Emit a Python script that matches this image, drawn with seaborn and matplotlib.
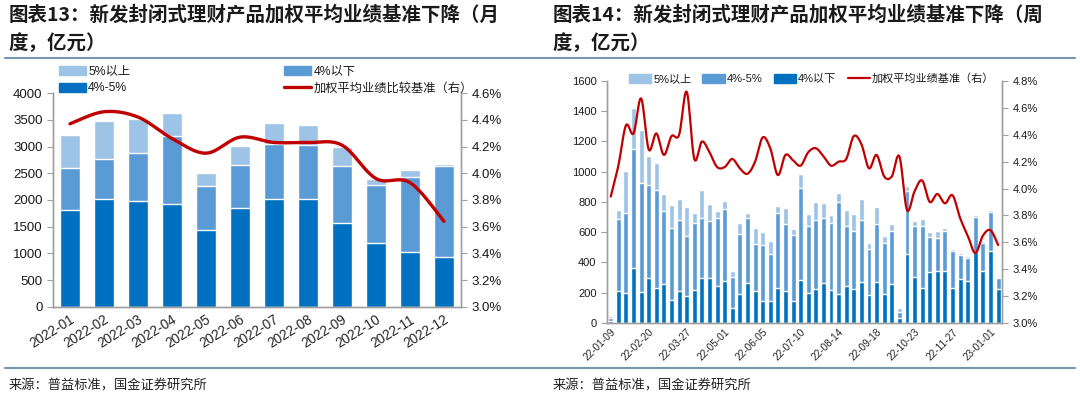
import numpy as np
import pandas as pd
import matplotlib
matplotlib.use("Agg")
import matplotlib.pyplot as plt
from matplotlib.patches import Patch
from matplotlib.lines import Line2D
from matplotlib.ticker import FuncFormatter
import seaborn as sns

# ---- 月度数据（亿元）----
months = ["2022-01", "2022-02", "2022-03", "2022-04", "2022-05", "2022-06",
          "2022-07", "2022-08", "2022-09", "2022-10", "2022-11", "2022-12"]
m_45 = [1810, 2020, 1980, 1925, 1430, 1855, 2020, 2020, 1570, 1200, 1030, 935]   # 4%-5%
m_lt4 = [790, 745, 900, 1270, 835, 805, 1035, 1015, 1070, 1075, 1400, 1700]      # 4%以下
m_gt5 = [620, 715, 630, 430, 245, 345, 380, 365, 360, 125, 125, 40]              # 5%以上
m_rate = [4.37, 4.46, 4.42, 4.26, 4.15, 4.27, 4.23, 4.23, 4.21, 3.96, 3.93, 3.64]

# ---- 周度数据（亿元）----
weeks = ["22-01-09", "22-01-16", "22-01-23", "22-02-06", "22-02-13"] + \
    [d.strftime("%y-%m-%d") for d in pd.date_range("2022-02-20", periods=47, freq="7D")]
w_lt4 = [15, 210, 199, 364, 203, 296, 230, 256, 155, 212, 179, 218, 296, 298, 245, 280,
         102, 190, 263, 210, 148, 148, 234, 214, 143, 282, 201, 223, 267, 221, 192, 245,
         223, 271, 185, 269, 194, 258, 33, 455, 307, 234, 335, 344, 342, 232, 289, 278,
         470, 342, 479, 223]                                                       # 4%以下
w_45 = [20, 476, 529, 786, 724, 618, 651, 486, 474, 470, 393, 444, 399, 377, 450, 473,
        203, 397, 434, 315, 366, 307, 490, 439, 437, 610, 437, 461, 426, 437, 605, 399,
        388, 409, 303, 384, 338, 351, 42, 417, 337, 410, 232, 217, 269, 245, 161, 155,
        234, 188, 256, 77]                                                         # 4%-5%
w_gt5 = [10, 60, 276, 269, 351, 187, 174, 112, 154, 141, 196, 66, 186, 115, 44, 52,
         39, 71, 27, 100, 86, 84, 48, 108, 40, 90, 81, 117, 99, 55, 64, 104,
         108, 143, 44, 115, 42, 44, 24, 33, 31, 45, 33, 48, 18, 15, 13, 13,
         7, 13, 11, 5]                                                             # 5%以上
w_rate = [3.94, 4.17, 4.47, 4.41, 4.67, 4.29, 4.41, 4.25, 4.39, 4.40, 4.72, 4.22, 4.35,
          4.27, 4.16, 4.16, 4.22, 4.15, 4.11, 4.20, 4.38, 4.30, 4.10, 4.25, 4.21, 4.17,
          4.27, 4.30, 4.24, 4.17, 4.20, 4.22, 4.39, 4.33, 4.15, 4.25, 4.09, 4.09, 4.24,
          3.84, 3.98, 4.06, 3.90, 3.96, 3.89, 3.95, 3.78, 3.65, 3.52, 3.65, 3.69, 3.58]
week_ticks = list(range(0, 52, 5))

DARK, MID, LIGHT, RED = "#0070C0", "#5B9BD5", "#9DC3E6", "#C00000"
GREY = "#A0A0A0"

sns.set_style("white")
plt.rcParams["font.family"] = ["Liberation Sans", "Noto Sans CJK SC"]
plt.rcParams["text.color"] = "#1a1a1a"


def smooth(x, y, k=12):
    # Catmull-Rom 平滑，仿 Excel 平滑线
    px = np.r_[x[0], x, x[-1]].astype(float)
    py = np.r_[y[0], y, y[-1]].astype(float)
    t = np.linspace(0, 1, k, endpoint=False)
    xs, ys = [], []
    for i in range(1, len(px) - 2):
        for arr, out in ((px, xs), (py, ys)):
            p0, p1, p2, p3 = arr[i - 1:i + 3]
            out.extend(0.5 * (2 * p1 + (-p0 + p2) * t + (2 * p0 - 5 * p1 + 4 * p2 - p3) * t ** 2
                              + (-p0 + 3 * p1 - 3 * p2 + p3) * t ** 3))
    xs.append(px[-2]); ys.append(py[-2])
    return np.array(xs), np.array(ys)


def stacked(ax, cats, bottom, middle, top, c_bottom, c_middle, width):
    b = np.array(bottom); m = b + np.array(middle); t = m + np.array(top)
    sns.barplot(x=cats, y=t, color=LIGHT, saturation=1, width=width, ax=ax, errorbar=None)
    sns.barplot(x=cats, y=m, color=c_middle, saturation=1, width=width, ax=ax, errorbar=None)
    sns.barplot(x=cats, y=b, color=c_bottom, saturation=1, width=width, ax=ax, errorbar=None)


def style_axes(ax, ax2, n, fs):
    for a in (ax, ax2):
        a.spines["top"].set_visible(False)
        for s in ("left", "right", "bottom"):
            a.spines[s].set_color(GREY)
            a.spines[s].set_linewidth(1.0)
        a.tick_params(axis="y", length=4, color=GREY, labelsize=fs, labelcolor="#1a1a1a")
    ax.set_xlim(-0.5, n - 0.5)
    ax.set_xlabel("")
    ax.set_ylabel("")
    ax2.set_ylabel("")


fig = plt.figure(figsize=(10.8, 3.99), dpi=100)

# ================= 左图：月度 =================
ax = fig.add_axes([0.0491, 0.2306, 0.3778, 0.5363])
stacked(ax, months, m_45, m_lt4, m_gt5, DARK, MID, 0.57)
ax2 = ax.twinx()
sx, sy = smooth(np.arange(len(months)), m_rate)
ax2.plot(sx, sy, color=RED, lw=2.4, solid_capstyle="round")
ax.set_ylim(0, 4000)
ax.set_yticks(range(0, 4001, 500))
ax2.set_ylim(3.0, 4.6)
ax2.set_yticks(np.arange(3.0, 4.61, 0.2))
ax2.yaxis.set_major_formatter(FuncFormatter(lambda v, p: f"{v:.1f}%"))
style_axes(ax, ax2, len(months), 9.5)
ax.set_xticks(range(len(months)))
ax.set_xticklabels(months, rotation=32, ha="right", rotation_mode="anchor", fontsize=9.8)
ax.tick_params(axis="x", length=0, pad=4)
ax.set_xticks(np.arange(-0.5, len(months), 1), minor=True)
ax.tick_params(axis="x", which="minor", length=4, color=GREY)

h_left = [Patch(color=LIGHT), Patch(color=DARK), Patch(color=MID),
          Line2D([], [], color=RED, lw=2.4)]
l_left = ["5%以上", "4%-5%", "4%以下", "加权平均业绩比较基准（右）"]
fig.legend(h_left, l_left, ncol=2, loc="upper left", bbox_to_anchor=(0.050, 0.848),
           frameon=False, fontsize=8.8, handlelength=2.2, handleheight=0.8,
           handletextpad=0.2, columnspacing=12.6, labelspacing=0.4, borderaxespad=0)

# ================= 右图：周度 =================
bx = fig.add_axes([0.5620, 0.1905, 0.3657, 0.6065])
stacked(bx, weeks, w_lt4, w_45, w_gt5, DARK, MID, 0.65)
bx2 = bx.twinx()
sx, sy = smooth(np.arange(len(weeks)), w_rate)
bx2.plot(sx, sy, color=RED, lw=1.6)
bx.set_ylim(0, 1600)
bx.set_yticks(range(0, 1601, 200))
bx2.set_ylim(3.0, 4.8)
bx2.set_yticks(np.arange(3.0, 4.81, 0.2))
bx2.yaxis.set_major_formatter(FuncFormatter(lambda v, p: f"{v:.1f}%"))
style_axes(bx, bx2, len(weeks), 8)
bx.set_xticks(week_ticks)
bx.set_xticklabels([weeks[i] for i in week_ticks], rotation=45, ha="right",
                   rotation_mode="anchor", fontsize=7.2)
bx.tick_params(axis="x", length=0, pad=3)
bx.set_xticks(np.arange(-0.5, len(weeks), 4), minor=True)
bx.tick_params(axis="x", which="minor", length=4, color=GREY)

h_right = [Patch(color=LIGHT), Patch(color=MID), Patch(color=DARK),
           Line2D([], [], color=RED, lw=1.6)]
l_right = ["5%以上", "4%-5%", "4%以下", "加权平均业绩基准（右）"]
fig.legend(h_right, l_right, ncol=4, loc="upper left", bbox_to_anchor=(0.578, 0.827),
           frameon=False, fontsize=8, handlelength=2.0, handleheight=0.8,
           handletextpad=0.2, columnspacing=1.0, borderaxespad=0)

# ================= 标题、分隔线、来源 =================
title_kw = dict(fontsize=14, fontweight="bold", family=["Noto Sans CJK SC"], va="center")
fig.text(0.008, 1 - 15 / 399, "图表13：新发封闭式理财产品加权平均业绩基准下降（月", **title_kw)
fig.text(0.008, 1 - 43 / 399, "度，亿元）", **title_kw)
fig.text(0.512, 1 - 15 / 399, "图表14：新发封闭式理财产品加权平均业绩基准下降（周", **title_kw)
fig.text(0.512, 1 - 43 / 399, "度，亿元）", **title_kw)

for yy in (1 - 58 / 399, 1 - 368 / 399):
    fig.add_artist(Line2D([0.005, 0.995], [yy, yy], transform=fig.transFigure,
                          color="#7497AE", lw=1.5))

src_kw = dict(fontsize=9.5, family=["Noto Sans CJK SC"], va="center", color="#222222")
fig.text(0.008, 1 - 386 / 399, "来源：普益标准，国金证券研究所", **src_kw)
fig.text(0.512, 1 - 386 / 399, "来源：普益标准，国金证券研究所", **src_kw)

fig.savefig("out.png", dpi=100, facecolor="white")
